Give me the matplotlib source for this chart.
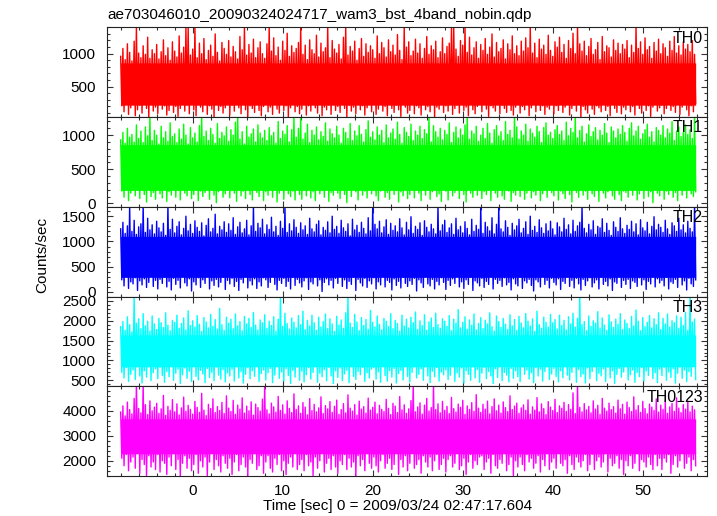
import numpy as np
import matplotlib
matplotlib.use("Agg")
import matplotlib.pyplot as plt
from matplotlib.ticker import FixedLocator, MultipleLocator

plt.rcParams['font.family'] = ['Liberation Sans', 'DejaVu Sans']

title = "ae703046010_20090324024717_wam3_bst_4band_nobin.qdp"
xlabel = "Time [sec] 0 = 2009/03/24 02:47:17.604"
ylabel = "Counts/sec"
names = ["TH0", "TH1", "TH2", "TH3", "TH0123"]
colors = ["#ff0000", "#00ff00", "#0000ff", "#00ffff", "#ff00ff"]

# time bins (s): 256 bins of 0.25 s starting at -8 s
time = np.linspace(-8.0, 55.75, 256)

# per-bin spike maxima / minima (counts/sec)
th0_hi = [960, 1080, 910, 1150, 1020, 890, 1190, 1420, 1010, 940, 1120, 990, 1250, 930, 1060, 1000,
          1140, 920, 1030, 1210, 970, 1090, 900, 1180, 1040, 950, 1270, 1010, 1100, 1420, 1400, 980,
          1070, 1420, 940, 1160, 1000, 1230, 910, 1050, 1130, 960, 1300, 1020, 890, 1170, 1080, 990,
          1200, 950, 1110, 1030, 920, 1260, 1060, 1420, 980, 1140, 1010, 1220, 940, 1090, 1180, 1000,
          930, 1150, 1420, 1040, 1240, 970, 1100, 900, 1190, 1050, 1310, 960, 1120, 1020, 1080, 1170,
          1420, 990, 1130, 910, 1210, 1060, 1000, 1280, 950, 1160, 1030, 1090, 1420, 940, 1200, 1070,
          1010, 1140, 920, 1250, 1420, 980, 1110, 1040, 1190, 900, 1080, 1230, 960, 1150, 1020, 1120,
          1060, 930, 1270, 1000, 1170, 1090, 950, 1210, 1030, 1130, 980, 1290, 1050, 910, 1420, 1100,
          1180, 970, 1040, 1220, 1010, 1150, 930, 1080, 1260, 990, 1120, 1060, 1190, 940, 1030, 1240,
          1000, 1110, 1160, 1420, 1410, 1070, 960, 1200, 1130, 1420, 1020, 1250, 980, 1090, 1180, 930,
          1140, 1050, 1230, 990, 1100, 1300, 950, 1170, 1030, 1080, 1210, 920, 1150, 1060, 1270, 1000,
          1120, 970, 1190, 1040, 1240, 1090, 1420, 1010, 1160, 940, 1220, 1070, 1130, 990, 1280, 1050,
          960, 1180, 1100, 1250, 1020, 1140, 930, 1200, 1080, 1310, 1000, 1420, 1150, 1040, 1190, 970,
          1110, 1230, 990, 1060, 1170, 910, 1260, 1030, 1120, 1090, 950, 1210, 1050, 1160, 1000, 1140,
          1070, 1200, 940, 1130, 1020, 1420, 1080, 1180, 990, 1240, 1060, 1110, 930, 1170, 1040, 1220,
          1000, 1150, 1090, 960, 1190, 1050, 1260, 1010, 1120, 980, 1180, 1070, 1140, 1030, 1200, 990]
th0_lo = [210, 120, 260, 80, 180, 240, 60, 150, 220, 100, 270, 170, 40, 230, 130, 190,
          90, 250, 160, 210, 70, 140, 280, 110, 200, 50, 170, 240, 130, 220, 90, 260,
          150, 60, 230, 190, 120, 270, 80, 210, 160, 40, 250, 140, 200, 100, 180, 230,
          70, 220, 130, 260, 180, 90, 240, 150, 50, 210, 170, 110, 280, 140, 60, 200,
          240, 120, 190, 80, 230, 160, 100, 270, 140, 210, 45, 180, 250, 120, 200, 90,
          160, 230, 70, 210, 130, 260, 180, 100, 240, 60, 190, 150, 220, 80, 270, 140,
          200, 110, 250, 170, 40, 220, 130, 190, 90, 260, 150, 210, 70, 180, 240, 120,
          230, 80, 160, 280, 130, 200, 60, 240, 170, 110, 220, 150, 50, 250, 190, 100,
          140, 260, 90, 210, 180, 70, 230, 150, 200, 120, 270, 40, 190, 160, 240, 110,
          210, 130, 250, 80, 170, 220, 100, 260, 140, 190, 60, 230, 150, 90, 200, 270,
          120, 240, 160, 50, 210, 180, 130, 250, 90, 220, 170, 110, 260, 140, 70, 190,
          250, 100, 200, 150, 230, 60, 180, 240, 120, 270, 140, 210, 80, 190, 160, 230,
          90, 210, 140, 260, 110, 190, 240, 70, 170, 220, 130, 250, 40, 200, 150, 100,
          230, 160, 80, 210, 180, 120, 260, 140, 200, 60, 240, 170, 110, 220, 90, 190,
          150, 250, 120, 200, 70, 230, 170, 100, 260, 140, 210, 50, 190, 240, 130, 180,
          220, 90, 170, 240, 140, 200, 110, 260, 80, 190, 230, 150, 60, 210, 120, 250]

th1_hi = [930, 1040, 880, 1100, 970, 1010, 900, 1150, 950, 1060, 890, 1120, 990, 1290, 920, 1070,
          1000, 870, 1130, 960, 1050, 910, 1180, 980, 1020, 890, 1090, 940, 1160, 1000, 870, 1110,
          960, 1030, 900, 1140, 1290, 980, 1060, 920, 1100, 1010, 880, 1170, 950, 1040, 990, 1120,
          910, 1080, 1000, 1190, 1290, 940, 1050, 870, 1130, 970, 1020, 1090, 900, 1150, 1030, 960,
          1070, 920, 1110, 990, 1040, 880, 1200, 950, 1060, 1010, 1140, 900, 1080, 1290, 970, 1100,
          1290, 940, 1030, 1160, 890, 1070, 1000, 1120, 930, 1050, 980, 1180, 910, 1090, 1020, 960,
          1130, 1000, 880, 1100, 1040, 950, 1170, 920, 1060, 990, 1140, 1010, 900, 1080, 1210, 970,
          1050, 930, 1120, 1000, 1070, 890, 1150, 960, 1030, 1090, 940, 1190, 1010, 880, 1110, 1040,
          980, 1160, 920, 1060, 1000, 1130, 950, 1080, 1020, 1290, 900, 1140, 1050, 970, 1100, 930,
          1070, 1010, 1180, 890, 1040, 1120, 960, 1090, 1000, 1150, 1290, 940, 1060, 1020, 1130, 910,
          1000, 1100, 950, 1170, 1030, 880, 1080, 1140, 990, 1050, 920, 1200, 1010, 1070, 960, 1290,
          1120, 940, 1060, 1000, 1160, 910, 1090, 1030, 970, 1130, 1050, 890, 1110, 1180, 1000, 1040,
          950, 1080, 1140, 1010, 1060, 920, 1190, 990, 1100, 1040, 1290, 960, 1070, 1130, 900, 1020,
          1150, 980, 1050, 1110, 930, 1070, 1000, 1170, 1030, 890, 1120, 1060, 960, 1090, 1010, 1140,
          1040, 910, 1100, 1180, 990, 1060, 1130, 940, 1020, 1080, 1160, 970, 1050, 900, 1110, 1070,
          1000, 1140, 960, 1090, 1030, 1200, 920, 1060, 1120, 980, 1040, 1150, 1010, 1080, 950, 1290]
th1_lo = [180, 90, 230, 40, 150, 210, 110, 250, 70, 190, 130, 20, 220, 100, 160, 60,
          240, 140, 80, 200, 30, 170, 120, 230, 90, 190, 50, 210, 150, 110, 250, 70,
          130, 220, 40, 180, 100, 160, 240, 60, 200, 120, 10, 170, 230, 90, 140, 190,
          80, 210, 150, 30, 240, 110, 180, 70, 220, 130, 50, 200, 160, 100, 250, 40,
          170, 120, 230, 90, 190, 20, 150, 210, 60, 240, 140, 100, 180, 50, 220, 130,
          60, 200, 110, 250, 80, 170, 40, 230, 140, 190, 90, 210, 30, 160, 120, 240,
          150, 70, 220, 130, 10, 190, 100, 240, 170, 50, 210, 120, 180, 80, 230, 140,
          200, 110, 40, 180, 250, 90, 160, 60, 220, 130, 190, 20, 170, 110, 240, 70,
          130, 230, 80, 190, 150, 40, 210, 120, 250, 60, 170, 200, 100, 140, 30, 220,
          180, 50, 240, 110, 160, 210, 70, 190, 130, 20, 230, 150, 90, 200, 120, 250,
          70, 170, 130, 220, 40, 190, 150, 90, 240, 110, 60, 210, 180, 30, 160, 120,
          230, 100, 190, 60, 150, 250, 80, 170, 120, 210, 40, 140, 200, 90, 230, 160,
          110, 220, 50, 180, 140, 70, 240, 130, 20, 200, 160, 90, 210, 120, 180, 60,
          240, 140, 100, 190, 30, 220, 150, 80, 170, 250, 110, 60, 200, 130, 40, 180,
          160, 90, 230, 120, 210, 50, 140, 190, 70, 240, 100, 170, 10, 220, 150, 110,
          200, 60, 180, 130, 250, 90, 160, 40, 210, 120, 190, 80, 230, 140, 100, 170]

th2_hi = [1250, 1380, 1160, 1310, 1720, 1200, 1420, 1140, 1290, 1350, 1720, 1180, 1460, 1230, 1330, 1150,
          1400, 1270, 1190, 1360, 1120, 1720, 1240, 1440, 1170, 1300, 1390, 1130, 1260, 1500, 1210, 1340,
          1160, 1410, 1280, 1200, 1370, 1110, 1320, 1450, 1190, 1260, 1540, 1150, 1300, 1230, 1390, 1180,
          1350, 1220, 1470, 1140, 1290, 1380, 1170, 1250, 1420, 1130, 1310, 1720, 1200, 1360, 1270, 1440,
          1150, 1330, 1240, 1480, 1190, 1300, 1120, 1400, 1260, 1720, 1180, 1350, 1210, 1430, 1280, 1160,
          1370, 1230, 1310, 1140, 1460, 1250, 1190, 1340, 1410, 1130, 1280, 1220, 1390, 1170, 1500, 1240,
          1300, 1160, 1420, 1270, 1200, 1350, 1110, 1440, 1230, 1320, 1180, 1380, 1260, 1150, 1470, 1210,
          1720, 1340, 1250, 1400, 1170, 1290, 1430, 1140, 1360, 1220, 1310, 1190, 1450, 1270, 1130, 1380,
          1230, 1490, 1160, 1300, 1240, 1370, 1120, 1410, 1280, 1190, 1340, 1250, 1150, 1720, 1210, 1330,
          1420, 1180, 1270, 1350, 1140, 1460, 1230, 1300, 1170, 1390, 1260, 1130, 1440, 1200, 1320, 1240,
          1720, 1160, 1380, 1290, 1210, 1470, 1150, 1340, 1720, 1250, 1190, 1410, 1280, 1120, 1360, 1230,
          1310, 1440, 1170, 1260, 1390, 1140, 1500, 1220, 1300, 1180, 1430, 1270, 1160, 1350, 1210, 1400,
          1250, 1130, 1370, 1290, 1190, 1460, 1240, 1330, 1150, 1420, 1200, 1310, 1380, 1720, 1260, 1170,
          1340, 1230, 1410, 1140, 1300, 1270, 1450, 1180, 1360, 1220, 1120, 1390, 1280, 1200, 1470, 1250,
          1160, 1320, 1240, 1400, 1190, 1350, 1130, 1430, 1270, 1210, 1380, 1150, 1300, 1490, 1230, 1340,
          1280, 1180, 1420, 1250, 1140, 1370, 1310, 1200, 1460, 1230, 1330, 1170, 1400, 1260, 1190, 1720]
th2_lo = [240, 120, 300, 70, 200, 160, 280, 30, 220, 140, 260, 90, 190, 310, 110, 230,
          60, 250, 170, 290, 100, 210, 40, 270, 150, 230, 80, 300, 180, 120, 260, 20,
          200, 140, 280, 90, 240, 170, 310, 60, 220, 130, 250, 100, 190, 290, 50, 230,
          160, 270, 110, 210, 30, 250, 180, 300, 80, 220, 140, 260, 70, 200, 120, 280,
          240, 90, 190, 310, 150, 40, 230, 170, 270, 110, 210, 60, 290, 130, 250, 180,
          100, 220, 280, 50, 200, 160, 300, 120, 240, 10, 190, 260, 140, 230, 80, 270,
          170, 310, 110, 240, 70, 210, 150, 290, 30, 250, 180, 120, 270, 90, 220, 160,
          280, 60, 200, 140, 300, 100, 230, 190, 40, 260, 130, 210, 80, 290, 170, 110,
          220, 150, 270, 20, 240, 180, 90, 300, 160, 120, 250, 60, 210, 140, 280, 190,
          50, 230, 130, 260, 170, 310, 100, 200, 70, 240, 150, 290, 30, 220, 180, 120,
          270, 90, 210, 150, 300, 60, 250, 170, 230, 110, 280, 140, 190, 40, 260, 160,
          120, 290, 70, 220, 180, 250, 130, 20, 240, 200, 100, 310, 150, 230, 80, 270,
          190, 140, 260, 50, 210, 170, 300, 110, 230, 80, 270, 160, 40, 250, 130, 220,
          280, 100, 180, 240, 60, 290, 150, 210, 120, 260, 30, 200, 170, 300, 90, 230,
          150, 250, 70, 220, 190, 110, 280, 140, 240, 50, 210, 160, 300, 100, 260, 180,
          230, 120, 290, 60, 200, 170, 250, 90, 310, 140, 220, 40, 270, 160, 110, 240]

th3_hi = [1850, 1980, 1760, 2100, 1900, 1720, 2650, 1940, 2050, 1800, 2180, 1870, 1990, 1740, 2120, 1920,
          1780, 2060, 1950, 1830, 2200, 1890, 1750, 2010, 1960, 2140, 1810, 1930, 2070, 1770, 2250, 1880,
          2000, 1840, 2130, 1910, 1730, 2080, 1970, 1820, 2160, 1860, 2030, 1790, 2310, 1900, 1760, 2090,
          1940, 2040, 1800, 2170, 1870, 1980, 1750, 2110, 1920, 2060, 1830, 2210, 1890, 1770, 2020, 1950,
          2150, 1810, 1990, 1880, 2100, 1740, 2040, 2650, 1860, 2190, 1930, 1790, 2070, 1960, 1820, 2130,
          1900, 2240, 1780, 2010, 1870, 2140, 1950, 1760, 2090, 1840, 1980, 2170, 1800, 2050, 1920, 1730,
          2110, 1890, 2020, 1810, 2200, 2650, 1940, 1830, 2160, 1970, 1750, 2080, 1880, 2030, 1790, 2260,
          1960, 1840, 2120, 1910, 1770, 2060, 1990, 1850, 2180, 1800, 2010, 1930, 1740, 2140, 1870, 2040,
          1820, 2090, 1950, 2220, 1780, 2000, 1880, 2150, 1760, 1970, 2070, 1830, 2190, 1900, 1810, 2050,
          1990, 1860, 2130, 1750, 2040, 1940, 2280, 1820, 1960, 2100, 1790, 2020, 1890, 2170, 1770, 1930,
          2080, 1800, 2010, 1920, 2200, 1850, 1740, 2120, 1980, 1830, 2060, 1910, 1780, 2150, 1870, 2030,
          1760, 2110, 1940, 1820, 2180, 1990, 1870, 2050, 1730, 2240, 1900, 1810, 2090, 1960, 1840, 2160,
          1950, 2030, 1790, 2140, 1880, 2010, 1770, 2100, 1920, 2190, 1840, 2060, 2650, 1900, 1980, 1750,
          2120, 1860, 2000, 1940, 2230, 1810, 2070, 1890, 1760, 2150, 1970, 1830, 2040, 1910, 2180, 1780,
          2020, 1930, 1800, 2110, 1870, 2270, 1990, 1750, 2080, 1850, 1960, 2130, 1820, 2050, 1900, 2200,
          1780, 2060, 1920, 2170, 1840, 2000, 1950, 2120, 1810, 2090, 1880, 2210, 1760, 2650, 1970, 2040]
th3_lo = [700, 560, 820, 470, 650, 760, 520, 880, 610, 430, 740, 580, 850, 490, 690, 790,
          540, 830, 620, 450, 720, 590, 870, 500, 680, 780, 420, 640, 810, 550, 730, 470,
          860, 600, 510, 750, 660, 440, 800, 570, 700, 490, 840, 630, 530, 770, 460, 690,
          610, 780, 480, 850, 560, 720, 430, 650, 820, 540, 740, 600, 880, 470, 670, 760,
          510, 690, 800, 440, 630, 870, 550, 710, 480, 790, 620, 420, 750, 580, 840, 500,
          730, 460, 640, 820, 530, 700, 860, 450, 680, 590, 770, 490, 830, 610, 420, 740,
          570, 810, 490, 660, 750, 440, 890, 600, 520, 720, 640, 830, 470, 690, 560, 780,
          820, 530, 710, 450, 860, 620, 480, 740, 580, 800, 430, 670, 750, 510, 880, 600,
          460, 700, 840, 560, 650, 790, 500, 870, 610, 440, 730, 590, 820, 480, 710, 640,
          760, 520, 630, 880, 470, 690, 580, 810, 430, 740, 650, 500, 850, 560, 770, 450,
          680, 830, 540, 720, 610, 420, 790, 570, 860, 490, 700, 630, 460, 800, 550, 740,
          590, 470, 850, 650, 760, 530, 690, 440, 820, 610, 780, 480, 720, 870, 520, 660,
          800, 600, 460, 740, 560, 880, 630, 510, 700, 840, 450, 770, 590, 660, 430, 810,
          540, 720, 850, 490, 680, 610, 790, 470, 830, 560, 740, 420, 650, 800, 580, 710,
          870, 510, 640, 760, 450, 700, 590, 820, 480, 730, 620, 860, 540, 690, 440, 780,
          620, 830, 500, 710, 570, 790, 430, 680, 840, 550, 760, 470, 720, 600, 860, 520]

th0123_hi = [3950, 4200, 3800, 4350, 4050, 3880, 4500, 5100, 4100, 3920, 5100, 4250, 3850, 4400, 4000, 4150,
             4300, 3900, 4080, 4620, 3820, 4180, 4020, 4450, 3960, 4280, 3840, 4120, 4550, 3980, 4220, 4060,
             3870, 4380, 4140, 3940, 4700, 4030, 3810, 4260, 4090, 4480, 3930, 4170, 4010, 4340, 3890, 4600,
             4110, 3970, 4420, 3860, 4230, 4070, 4520, 3910, 4190, 4000, 4360, 3830, 4270, 4130, 3990, 4470,
             5100, 4040, 3880, 4310, 4160, 3950, 4580, 4020, 4240, 3870, 4400, 4100, 3930, 4680, 4060, 4200,
             3900, 4330, 4150, 3840, 4490, 4010, 4260, 3960, 4120, 4560, 3890, 4210, 4080, 4370, 3940, 4180,
             4430, 3860, 4050, 4290, 3920, 4640, 4110, 3990, 4250, 3830, 4390, 4070, 4170, 3910, 4510, 4030,
             4140, 4350, 3880, 4220, 4060, 3970, 4460, 4100, 3850, 4300, 4190, 3930, 4570, 4040, 4240, 3900,
             4080, 4410, 5100, 3960, 4160, 4320, 3870, 4230, 4500, 3990, 4130, 5100, 4050, 4280, 3920, 4380,
             4020, 4180, 3890, 4540, 4090, 3950, 4270, 4140, 4420, 3860, 4200, 4060, 4330, 3980, 4650, 4110,
             3940, 4260, 4070, 4390, 3880, 4170, 4480, 4000, 4230, 3910, 4360, 4130, 3970, 4600, 4050, 4190,
             4310, 3900, 4120, 4240, 4020, 4440, 3870, 4160, 4030, 4530, 3960, 4280, 4090, 3850, 4370, 4150,
             4010, 4460, 3930, 4200, 4100, 4340, 3980, 4250, 4060, 4720, 3890, 5100, 4140, 3960, 4290, 4040,
             4180, 3920, 4400, 4070, 4220, 3860, 4500, 4110, 3990, 4310, 4050, 4170, 3910, 4430, 4080, 4260,
             3870, 4350, 4130, 3970, 4560, 4040, 4210, 3940, 4380, 4090, 3880, 4270, 4150, 4020, 4480, 3950,
             4230, 4060, 4410, 3900, 4160, 4300, 3980, 4520, 4110, 3930, 4250, 4070, 4390, 3960, 4190, 4040]
th0123_lo = [2100, 1800, 2250, 1600, 1950, 2150, 1700, 2300, 1500, 2050, 1850, 1400, 2200, 1750, 1950, 1650,
             2250, 1550, 2000, 1900, 1450, 2150, 1800, 2300, 1650, 2050, 1350, 1900, 2200, 1700, 2100, 1600,
             1850, 2250, 1500, 2000, 1750, 2150, 1400, 1950, 2300, 1650, 2050, 1800, 1550, 2200, 1900, 1700,
             2100, 1450, 1950, 2250, 1600, 1850, 2150, 1750, 1400, 2050, 1900, 2300, 1650, 1800, 2200, 1500,
             1950, 2200, 1700, 1550, 2100, 1850, 2250, 1600, 2000, 1450, 1900, 2150, 1750, 2300, 1650, 1850,
             2050, 1600, 2250, 1800, 1950, 1400, 2150, 1700, 2000, 2300, 1550, 1900, 2100, 1650, 2200, 1750,
             1500, 2000, 1850, 2250, 1650, 2100, 1750, 1950, 1350, 2200, 1800, 2050, 1600, 2300, 1900, 1700,
             2150, 1800, 1550, 2000, 2250, 1700, 1900, 2100, 1650, 1850, 2300, 1450, 2050, 1750, 2200, 1600,
             1900, 2300, 1700, 1850, 2050, 1500, 2200, 1950, 1750, 2150, 1600, 2000, 2250, 1650, 1850, 2100,
             1550, 2050, 2200, 1750, 1900, 2300, 1650, 1800, 2100, 1450, 1950, 2250, 1700, 2000, 1850, 2150,
             2200, 1650, 1950, 2100, 1500, 2250, 1800, 1700, 2050, 1900, 2300, 1600, 1850, 2150, 1400, 2000,
             1750, 2150, 1850, 1600, 2250, 1950, 2100, 1700, 1900, 2200, 1550, 2050, 1800, 2300, 1650, 1950,
             2100, 1700, 2300, 1900, 1800, 2050, 1500, 2200, 1850, 1650, 2150, 1950, 1750, 2000, 2250, 1600,
             1850, 2250, 1650, 2000, 2150, 1750, 1950, 2300, 1550, 2100, 1800, 1900, 2200, 1700, 2050, 1450,
             2000, 1800, 2200, 1700, 1900, 2300, 1600, 2050, 1950, 1750, 2150, 1850, 1650, 2250, 1800, 2100,
             1650, 2100, 1950, 2250, 1500, 1850, 2200, 1750, 2000, 2300, 1700, 1900, 2150, 1600, 2050, 1800]

# dense core band of each light curve (counts/sec)
core_low = [220, 190, 290, 840, 2280]
core_high = [860, 860, 1100, 1640, 3680]

highs = [th0_hi, th1_hi, th2_hi, th3_hi, th0123_hi]
lows = [th0_lo, th1_lo, th2_lo, th3_lo, th0123_lo]

# axis ranges and ticks
xlim = (-9.55, 57.1)
x_major = [0, 10, 20, 30, 40, 50]
ylims = [(40, 1400), (-50, 1265), (-90, 1687), (350, 2610), (1390, 4985)]
y_majors = [[500, 1000], [0, 500, 1000], [0, 500, 1000, 1500],
            [500, 1000, 1500, 2000, 2500], [2000, 3000, 4000]]
y_minor_step = [100, 100, 100, 100, 200]

W, H = 717, 516
fig = plt.figure(figsize=(W / 100, H / 100), dpi=100)
gs = fig.add_gridspec(5, 1, left=106.7 / W, right=706.7 / W,
                      top=1 - 27.3 / H, bottom=1 - 476 / H, hspace=0)

half = (time[1] - time[0]) / 2
for i in range(5):
    ax = fig.add_subplot(gs[i])
    xz = np.column_stack([time, time + half]).ravel()
    yz = np.column_stack([highs[i], lows[i]]).ravel()
    ax.fill_between(xz, core_low[i], core_high[i], color=colors[i], lw=0, zorder=1.5)
    ax.plot(xz, yz, color=colors[i], lw=1.0, zorder=1.6)
    ax.set_xlim(*xlim)
    ax.set_ylim(*ylims[i])
    ax.xaxis.set_major_locator(FixedLocator(x_major))
    ax.xaxis.set_minor_locator(MultipleLocator(2))
    ax.yaxis.set_major_locator(FixedLocator(y_majors[i]))
    ax.yaxis.set_minor_locator(MultipleLocator(y_minor_step[i]))
    ax.tick_params(which='both', direction='in', top=True, right=True,
                   color='#333333', width=0.8, labelsize=11)
    ax.tick_params(which='major', length=4.3)
    ax.tick_params(which='minor', length=2.2)
    ax.tick_params(axis='y', pad=7.5)
    ax.tick_params(axis='x', pad=6)
    for s in ax.spines.values():
        s.set_linewidth(0.8)
        s.set_color('#222222')
    if i < 4:
        ax.tick_params(labelbottom=False)
    ax.text(0.994, 0.962, names[i], transform=ax.transAxes, ha='right', va='top',
            fontsize=11.5, zorder=10)

fig.text(107 / W, 1 - 14.5 / H, title, ha='left', va='center', fontsize=11)
fig.text(398 / W, 1 - 506 / H, xlabel, ha='center', va='center', fontsize=11)
fig.text(42 / W, 1 - 255 / H, ylabel, ha='center', va='center', rotation=90, fontsize=11)

fig.savefig("out.png", dpi=100)
